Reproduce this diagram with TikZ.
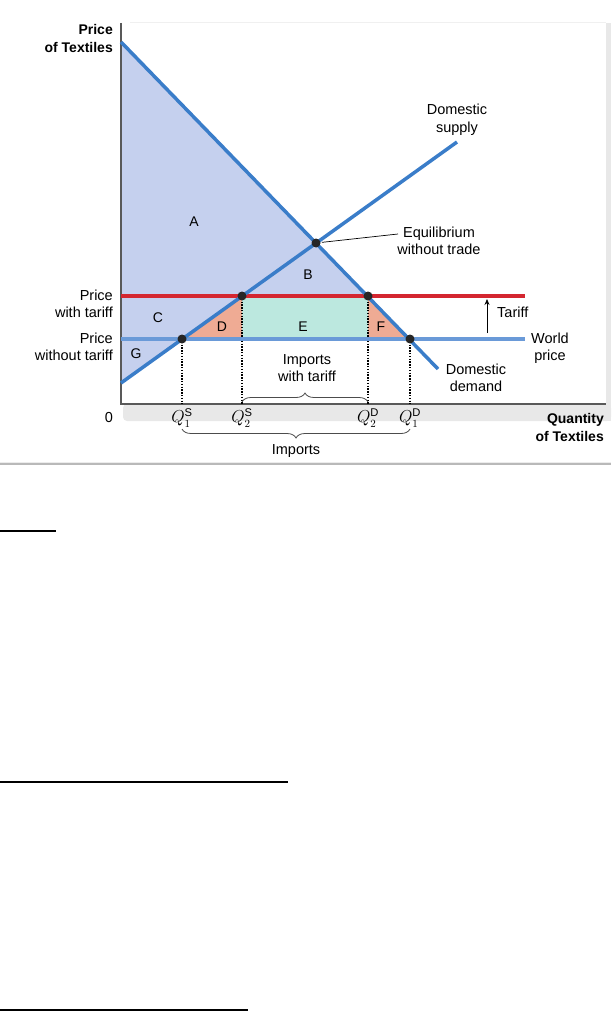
\documentclass[tikz,border=0pt]{standalone}
\usepackage{fontspec}
\setmainfont{Liberation Sans}
\usetikzlibrary{decorations.pathreplacing,arrows.meta}

\definecolor{curveblue}{HTML}{3A7DC9}
\definecolor{worldblue}{HTML}{6A9AD8}
\definecolor{tariffred}{HTML}{D42630}
\definecolor{surplusfill}{HTML}{C5D0EE}
\definecolor{lossfill}{HTML}{EFAB94}
\definecolor{revfill}{HTML}{BCE8DF}

\newcommand{\qmark}[2]{Q^{\mathrm{#1}}_{#2}}

\tikzset{
  curve/.style={curveblue, line width=3.5pt},
  priceline/.style={line width=3.5pt},
  axisline/.style={black!65, line width=1.5pt},
  drop/.style={black, line width=1.4pt, dash pattern=on 1.4pt off 1.4pt},
  dot/.style={circle, fill=black!85, inner sep=0pt, minimum size=9pt},
  lbl/.style={inner sep=0pt, font=\fontsize{14.5}{17.5}\selectfont},
  axislbl/.style={lbl, font=\fontsize{14}{18}\selectfont\bfseries},
  region/.style={inner sep=0pt, font=\fontsize{14}{16}\selectfont},
  qlbl/.style={inner sep=0pt, font=\fontsize{16}{18}\selectfont},
  bracestyle/.style={black!70, line width=0.8pt, decorate}
}

\begin{document}
\begin{tikzpicture}[x=1pt, y=-1pt]
    \useasboundingbox (0,0) rectangle (611,1011);

    % frame shadow
    \fill[gray!18, rounded corners=4pt] (123,404) rectangle (611,421);
    \fill[gray!18] (606,23) rectangle (611,421);
    \draw[black!6, line width=1pt] (130,23) -- (606,23);

    % key points
    \coordinate (o) at (121,404);
    \coordinate (ytop) at (121,23);
    \coordinate (xend) at (606,404);
    \coordinate (dtop) at (121,42);
    \coordinate (dend) at (438,369);
    \coordinate (sbot) at (121,383);
    \coordinate (send) at (457,142);
    \coordinate (eq) at (316,243);
    \coordinate (q2s) at (242,296);
    \coordinate (q2d) at (368,296);
    \coordinate (q1s) at (182,339);
    \coordinate (q1d) at (410,339);
    \coordinate (pt) at (121,296);
    \coordinate (pw) at (121,339);
    \coordinate (ptend) at (525,296);
    \coordinate (pwend) at (525,339);
    \coordinate (qrow) at (0,418);
    \coordinate (ub) at (0,402);
    \coordinate (lb) at (0,429);

    % surplus areas
    \fill[surplusfill] (dtop) -- (q2d) -- (q2s) -- (sbot) -- cycle;
    \fill[lossfill] (q1s) -- (q2s) -- (q2s |- q1s) -- cycle; % D
    \fill[revfill] (q2s) rectangle (q2d |- q1d); % E
    \fill[lossfill] (q2d) -- (q2d |- q1d) -- (q1d) -- cycle; % F

    % axes
    \draw[axisline] (ytop) -- (o) -- (xend);

    % dotted drops to the quantity axis
    \foreach \p in {q1s, q2s, q2d, q1d} {
        \draw[drop] (\p) -- (\p |- o);
    }

    % price lines
    \draw[priceline, worldblue] (pw) -- (pwend);
    \draw[priceline, tariffred] (pt) -- (ptend);

    % supply and demand
    \draw[curve] (sbot) -- (send);
    \draw[curve] (dtop) -- (dend);

    % intersection dots
    \foreach \p in {eq, q1s, q2s, q2d, q1d} {
        \node[dot] (dot\p) at (\p) {};
    }

    % region letters
    \foreach \name/\x/\y in {A/194/222, B/308/275, C/158/318, D/222/327, E/303/327, F/381/327, G/136/354} {
        \node[region] (reg\name) at (\x,\y) {\name};
    }

    % axis labels
    \node[axislbl, anchor=east, align=right] (ylab) at (113,38) {Price\\of Textiles};
    \node[axislbl, anchor=east, align=right] (xlab) at (604,427) {Quantity\\of Textiles};
    \node[lbl] (zero) at (109,418) {0};
    \node[lbl, anchor=east, align=right] (ptlab) at (113,304) {Price\\with tariff};
    \node[lbl, anchor=east, align=right] (pwlab) at (113,347) {Price\\without tariff};

    % quantity labels
    \foreach \p/\s/\n in {q1s/S/1, q2s/S/2, q2d/D/2, q1d/D/1} {
        \node[qlbl] (lab\p) at (\p |- qrow) {$\qmark{\s}{\n}$};
    }

    % curve labels
    \node[lbl, align=center] (suplab) at (457,120) {Domestic\\supply};
    \node[lbl, align=center] (demlab) at (476,378) {Domestic\\demand};
    \node[lbl, align=center] (eqlab) at (439,241) {Equilibrium\\without trade};
    \coordinate (eqtip) at (398,234);
    \draw[black, line width=0.7pt, shorten <=6pt] (doteq.center) -- (eqtip);
    \node[lbl, align=center] (wplab) at (550,348) {World\\price};

    % tariff arrow
    \coordinate (tarbot) at (487,333);
    \coordinate (tartop) at (487,299);
    \draw[black, line width=0.8pt, -{Stealth[length=6pt, width=5pt]}] (tarbot) -- (tartop);
    \node[lbl, anchor=west] (tarlab) at (497,312) {Tariff};

    % import braces
    \draw[bracestyle, decoration={brace, amplitude=9pt}] (q2s |- ub) -- (q2d |- ub);
    \node[lbl, align=center] (implab) at (307,368) {Imports\\with tariff};
    \draw[bracestyle, decoration={brace, mirror, amplitude=9pt}] (q1s |- lb) -- (q1d |- lb);
    \node[lbl] (allimp) at (296,451) {Imports};

    % separator and blank answer lines
    \draw[gray!15, line width=1pt] (0,462) -- (611,462);
    \draw[gray!55, line width=1.5pt] (0,464) -- (611,464);
    \draw[black, line width=1.2pt] (0,531) -- (56,531);
    \draw[black, line width=2pt] (0,782) -- (288,782);
    \draw[black, line width=2pt] (0,1009.5) -- (248,1009.5);
\end{tikzpicture}
\end{document}
